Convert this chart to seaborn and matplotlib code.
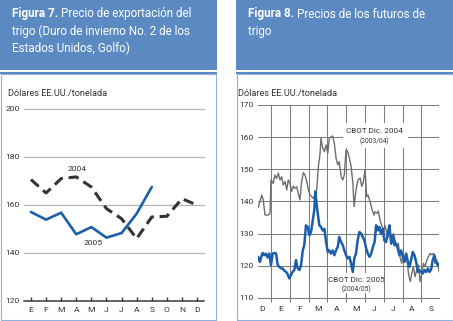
import matplotlib
matplotlib.use("Agg")
import matplotlib.pyplot as plt
import seaborn as sns
import pandas as pd
from matplotlib.patches import Rectangle

# ---------------- data: Figura 7 ----------------
meses7 = ["E", "F", "M", "A", "M", "J", "J", "A", "S", "O", "N", "D"]
precio_2004 = [170.6, 165.0, 171.0, 171.7, 167.5, 158.5, 154.3, 146.0, 155.0, 155.3, 162.6, 160.0]
precio_2005 = [157.1, 153.9, 156.8, 147.8, 150.8, 146.4, 148.3, 156.4, 167.5]
yticks7 = [120, 140, 160, 180, 200]

# ---------------- data: Figura 8 ----------------
meses8 = ["D", "E", "F", "M", "A", "M", "J", "J", "A", "S"]
yticks8 = [110, 120, 130, 140, 150, 160, 170]
# position in months (1 = 1 Jan, 2 = 1 Feb, ...)
pos_2004 = [0.32, 0.51, 0.59, 0.68, 0.86, 0.95, 1.00, 1.12, 1.21, 1.30, 1.39, 1.48, 1.57, 1.65,
            1.75, 1.84, 1.92, 2.01, 2.10, 2.19, 2.28, 2.37, 2.45, 2.54, 2.63, 2.72, 2.81, 2.90,
            2.99, 3.08, 3.17, 3.25, 3.34, 3.43, 3.52, 3.61, 3.66, 3.75, 3.84, 3.93, 4.02, 4.10,
            4.19, 4.28, 4.37, 4.46, 4.55, 4.63, 4.73, 4.82, 4.90, 4.99, 5.08, 5.17, 5.26, 5.35,
            5.42, 5.52, 5.63, 5.74, 5.83, 5.91, 6.00, 6.09, 6.16, 6.27, 6.38, 6.48, 6.53, 6.63,
            6.71, 6.80, 6.89, 6.98, 7.07, 7.16, 7.24, 7.33, 7.42, 7.51, 7.60, 7.69, 7.77, 7.86,
            7.95, 8.04, 8.13, 8.22, 8.31, 8.40, 8.49, 8.57, 8.66, 8.75, 8.84, 8.93, 9.02, 9.11,
            9.19, 9.29, 9.37, 9.46, 9.55, 9.64, 9.72, 9.81, 9.90, 9.95]
cbot_2004 = [138.2, 142.0, 140.5, 135.8, 135.8, 136.3, 146.7, 145.6, 148.2, 147.2, 148.8, 146.7,
             147.7, 145.1, 146.2, 143.6, 146.7, 145.6, 143.1, 144.8, 144.1, 144.6, 142.5, 140.5,
             146.2, 149.0, 148.2, 146.2, 143.6, 142.0, 141.5, 141.0, 142.0, 143.6, 150.8, 155.0,
             159.7, 156.6, 155.5, 157.6, 155.0, 159.7, 160.0, 160.4, 158.0, 153.5, 151.4, 152.4,
             147.8, 146.7, 148.3, 156.0, 155.5, 153.5, 150.9, 146.0, 138.4, 143.6, 146.7, 147.3,
             144.7, 146.0, 149.8, 141.5, 142.0, 140.0, 137.4, 135.8, 136.8, 136.3, 137.0, 134.2,
             132.5, 131.1, 132.5, 130.1, 129.0, 130.6, 128.0, 130.0, 128.0, 126.0, 127.0, 122.8,
             120.8, 123.9, 121.8, 122.8, 117.7, 115.1, 117.7, 119.7, 116.6, 118.7, 120.2, 115.1,
             117.7, 120.8, 119.7, 121.8, 122.8, 123.9, 123.4, 123.9, 120.8, 121.8, 119.7, 118.0]
pos_2005 = [0.32, 0.41, 0.51, 0.56, 0.64, 0.73, 0.82, 0.91, 1.00, 1.09, 1.18, 1.27, 1.36, 1.44,
            1.53, 1.62, 1.71, 1.80, 1.89, 1.97, 2.06, 2.15, 2.24, 2.33, 2.42, 2.51, 2.60, 2.69,
            2.77, 2.86, 2.95, 3.04, 3.13, 3.22, 3.30, 3.36, 3.39, 3.49, 3.57, 3.66, 3.75, 3.84,
            3.93, 4.02, 4.10, 4.19, 4.28, 4.37, 4.46, 4.55, 4.63, 4.73, 4.82, 4.90, 4.99, 5.08,
            5.17, 5.26, 5.35, 5.43, 5.52, 5.61, 5.70, 5.79, 5.88, 5.97, 6.06, 6.15, 6.24, 6.33,
            6.42, 6.51, 6.59, 6.68, 6.76, 6.85, 6.94, 7.03, 7.12, 7.21, 7.30, 7.39, 7.48, 7.57,
            7.65, 7.74, 7.83, 7.92, 8.01, 8.10, 8.19, 8.28, 8.36, 8.45, 8.54, 8.63, 8.72, 8.81,
            8.89, 8.98, 9.07, 9.16, 9.25, 9.34, 9.42, 9.51, 9.60, 9.69, 9.78, 9.87, 9.95]
cbot_2005 = [122.8, 121.2, 123.3, 124.0, 123.3, 123.8, 122.6, 123.8, 120.2, 123.8, 124.0, 123.8,
             120.2, 119.7, 119.2, 119.2, 118.5, 118.1, 117.4, 116.1, 117.1, 118.1, 118.7, 121.8,
             119.2, 118.7, 120.2, 124.8, 126.4, 132.6, 132.1, 129.5, 130.5, 134.1, 137.2, 143.1,
             141.0, 136.2, 132.6, 132.1, 131.0, 131.5, 127.4, 124.3, 124.8, 123.8, 124.8, 123.3,
             124.8, 125.9, 129.0, 127.4, 126.4, 124.8, 123.3, 122.3, 122.8, 120.7, 118.1, 122.3,
             123.8, 127.9, 130.5, 130.0, 129.0, 127.9, 125.4, 123.8, 122.8, 123.8, 125.9, 127.4,
             132.6, 131.0, 132.1, 130.0, 131.5, 127.9, 127.4, 130.0, 132.6, 126.9, 129.5, 126.4,
             126.9, 125.4, 123.3, 124.8, 122.8, 121.2, 123.8, 121.2, 119.7, 121.8, 124.3, 123.3,
             121.2, 118.1, 118.7, 118.1, 117.6, 118.7, 118.1, 119.2, 118.1, 118.7, 121.8, 123.3,
             121.2, 120.2, 120.7]

# ---------------- style ----------------
sns.set_theme(style="white")
plt.rcParams["font.family"] = ["Roboto", "DejaVu Sans"]

W, H = 453, 321
HDR = "#5b8ac3"
BORDER = "#8fb1dc"
TXT = "#333333"
BLUE = "#1b5ea9"
GRAY = "#6e6e6e"
FS = 6.1

fig = plt.figure(figsize=(W / 100, H / 100), dpi=100, facecolor="white")


def fx(x):
    return x / W


def fy(y):
    return 1 - y / H


def panel(x0, x1):
    fig.add_artist(Rectangle((fx(x0), fy(70)), fx(x1 - x0), 70 / H,
                             transform=fig.transFigure, facecolor=HDR, edgecolor="none", zorder=0))
    fig.add_artist(Rectangle((fx(x0), fy(74)), fx(x1 - x0), 2 / H,
                             transform=fig.transFigure, facecolor=HDR, edgecolor="none", zorder=0))
    fig.add_artist(Rectangle((fx(x0 + 0.5), fy(319.5)), fx(x1 - x0 - 1), (319.5 - 74) / H,
                             transform=fig.transFigure, facecolor="none", edgecolor=BORDER,
                             linewidth=0.8, zorder=0))


panel(0, 216.7)
panel(236, 453)

renderer = fig.canvas.get_renderer()


def title_line(x, y, bold, rest, size=8.4):
    if bold:
        t = fig.text(fx(x), fy(y), bold, color="white", fontsize=size, fontweight="bold",
                     va="baseline", ha="left")
        x1 = t.get_window_extent(renderer=renderer).x1
        fig.text(fx(x1 + 3), fy(y), rest, color="white", fontsize=size, va="baseline", ha="left")
    else:
        fig.text(fx(x), fy(y), rest, color="white", fontsize=size, va="baseline", ha="left")


title_line(12, 17.5, "Figura 7.", "Precio de exportación del")
title_line(12, 34.5, None, "trigo (Duro de invierno No. 2 de los")
title_line(12, 51.7, None, "Estados Unidos, Golfo)")
title_line(248, 17.5, "Figura 8.", "Precios de los futuros de")
title_line(248, 34.5, None, "trigo")

fig.text(fx(8), fy(96), "Dólares EE.UU./tonelada", fontsize=6.6, color=TXT, va="baseline")
fig.text(fx(237.5), fy(96), "Dólares EE.UU./tonelada", fontsize=6.6, color=TXT, va="baseline")

# ---------------- Figura 7 ----------------
ax1 = fig.add_axes([fx(24), fy(301), 180 / W, 192 / H])
ax1.set_facecolor("none")
df04 = pd.DataFrame({"mes": range(len(precio_2004)), "precio": precio_2004})
df05 = pd.DataFrame({"mes": range(len(precio_2005)), "precio": precio_2005})
sns.lineplot(data=df04, x="mes", y="precio", ax=ax1, color="#333333", linewidth=2.2)
ax1.lines[-1].set_dashes([3.4, 1.9])
ax1.lines[-1].set_dash_capstyle("butt")
sns.lineplot(data=df05, x="mes", y="precio", ax=ax1, color=BLUE, linewidth=1.9)
ax1.set_xlim(-0.46, 11.46)
ax1.set_ylim(120, 200)
ax1.set_yticks(yticks7)
ax1.set_yticklabels([str(v) for v in yticks7])
ax1.set_xticks(range(12))
ax1.set_xticklabels(meses7)
ax1.set_xlabel("")
ax1.set_ylabel("")
for v in yticks7[1:]:
    ax1.axhline(v, color="#b4b4b4", linewidth=0.9, zorder=0.5)
for s in ["top", "right", "left"]:
    ax1.spines[s].set_visible(False)
ax1.spines["bottom"].set_color("#3a3a3a")
ax1.spines["bottom"].set_linewidth(1.1)
ax1.tick_params(axis="y", length=0, pad=3.0, labelsize=FS, labelcolor=TXT)
ax1.tick_params(axis="x", direction="in", length=3.2, width=1.0, color="#3a3a3a",
                bottom=True, pad=4.0, labelsize=FS, labelcolor=TXT)
for line in ax1.lines:
    line.set_clip_on(False)
ax1.text(3.07, 175.0, "2004", fontsize=FS, color=TXT, ha="center", va="center")
ax1.text(4.09, 144.0, "2005", fontsize=FS, color=TXT, ha="center", va="center")

# ---------------- Figura 8 ----------------
ax2 = fig.add_axes([fx(258), fy(298), 181.3 / W, 193 / H])
ax2.set_facecolor("none")
ax2.set_axisbelow(True)
d04 = pd.DataFrame({"pos": pos_2004, "precio": cbot_2004})
d05 = pd.DataFrame({"pos": pos_2005, "precio": cbot_2005})
sns.lineplot(data=d04, x="pos", y="precio", ax=ax2, color=GRAY, linewidth=1.0,
             estimator=None, zorder=3)
sns.lineplot(data=d05, x="pos", y="precio", ax=ax2, color=BLUE, linewidth=1.8,
             estimator=None, zorder=4)
ax2.set_xlim(0.31, 9.95)
ax2.set_ylim(110, 170)
ax2.set_yticks(yticks8)
ax2.set_yticklabels([str(v) for v in yticks8])
ax2.set_xticks(range(1, 10))
ax2.set_xticklabels([""] * 9)
ax2.set_xticks([i + 0.5 for i in range(10)], minor=True)
ax2.set_xticklabels(meses8, minor=True)
ax2.set_xlabel("")
ax2.set_ylabel("")
ax2.grid(True, which="major", axis="both", color="#7d7d7d", linewidth=0.75)
for s in ["top", "right", "left"]:
    ax2.spines[s].set_visible(False)
ax2.spines["bottom"].set_color("#7d7d7d")
ax2.spines["bottom"].set_linewidth(0.75)
ax2.tick_params(axis="y", length=0, pad=3.0, labelsize=FS, labelcolor=TXT)
ax2.tick_params(axis="x", which="major", direction="out", length=3.0, width=0.75,
                color="#7d7d7d", bottom=True)
ax2.tick_params(axis="x", which="minor", length=0, pad=5.5, labelsize=FS,
                labelcolor=TXT, bottom=True)
# label boxes
ax2.add_patch(Rectangle((4.83, 156.6), 3.46, 7.8, facecolor="white", edgecolor="none", zorder=1))
ax2.add_patch(Rectangle((4.1, 111.6), 2.85, 6.2, facecolor="white", edgecolor="none", zorder=1))
ax2.text(6.52, 161.4, "CBOT Dic. 2004", fontsize=5.9, color=TXT, ha="center", va="baseline", zorder=5)
ax2.text(6.52, 158.6, "(2003/04)", fontsize=4.8, color=TXT, ha="center", va="center", zorder=5)
ax2.text(5.55, 115.1, "CBOT Dic. 2005", fontsize=5.9, color=TXT, ha="center", va="baseline", zorder=5)
ax2.text(5.55, 112.7, "(2004/05)", fontsize=4.8, color=TXT, ha="center", va="center", zorder=5)

fig.savefig("out.png", dpi=100, facecolor="white")
